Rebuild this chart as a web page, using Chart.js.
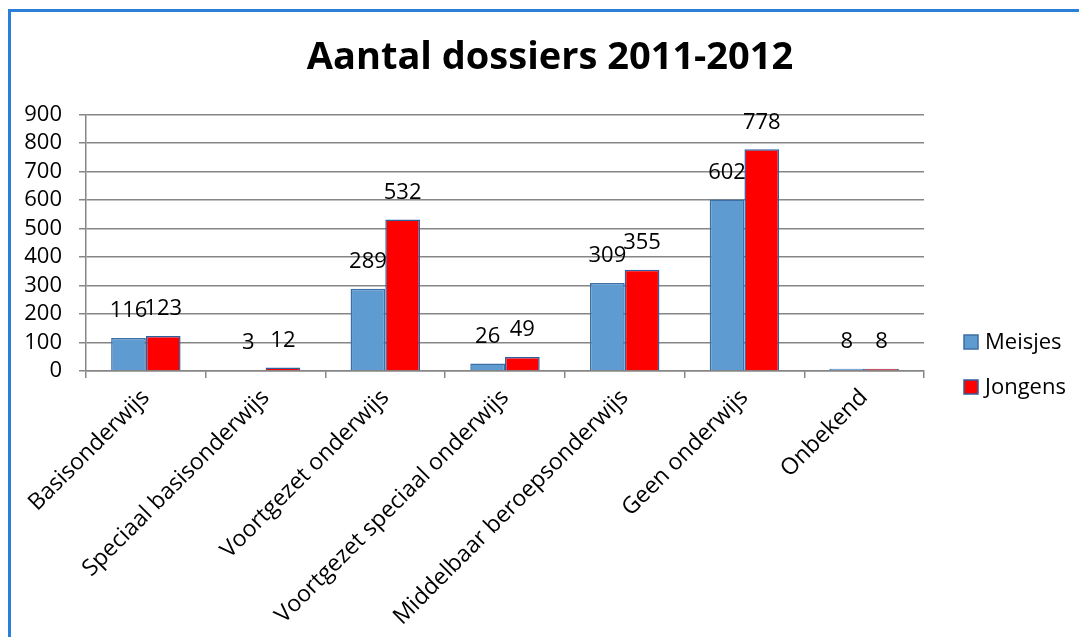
<!DOCTYPE html>
<html>
<head>
<meta charset="utf-8">
<script src="https://cdn.jsdelivr.net/npm/chart.js@4/dist/chart.umd.min.js"></script>
<style>
  html, body { margin: 0; padding: 0; background: #ffffff; overflow: hidden; }
  #frame {
    position: absolute; left: 8px; top: 9px;
    width: 1071px; height: 628px;
    border-left: 3px solid #2b7fd8; border-top: 3px solid #2b7fd8;
    background: #ffffff;
  }
  #c { display: block; }
</style>
</head>
<body>
<div id="frame"><canvas id="c" width="1068" height="625" style="width:1068px;height:625px"></canvas></div>
<script>
const titleText = 'Aantal dossiers 2011-2012';
const categories = [
  'Basisonderwijs',
  'Speciaal basisonderwijs',
  'Voortgezet onderwijs',
  'Voortgezet speciaal onderwijs',
  'Middelbaar beroepsonderwijs',
  'Geen onderwijs',
  'Onbekend'
];
const seriesNames = ['Meisjes', 'Jongens'];
const meisjes = [116, 3, 289, 26, 309, 602, 8];
const jongens = [123, 12, 532, 49, 355, 778, 8];
const yMin = 0, yMax = 900, yStep = 100;

const FONT = "'Open Sans', 'Noto Sans', sans-serif";
const GRID = '#868686';
const FS = 22;

const valueLabels = {
  id: 'valueLabels',
  afterDatasetsDraw(chart) {
    const ctx = chart.ctx;
    ctx.save();
    ctx.font = FS + 'px ' + FONT;
    ctx.fillStyle = '#000000';
    ctx.textAlign = 'center';
    ctx.textBaseline = 'middle';
    chart.data.datasets.forEach((ds, di) => {
      const meta = chart.getDatasetMeta(di);
      meta.data.forEach((el, i) => {
        ctx.fillText(String(ds.data[i]), el.x, el.y - 27);
      });
    });
    ctx.restore();
  }
};

const sideLegend = {
  id: 'sideLegend',
  afterDraw(chart) {
    const ctx = chart.ctx;
    const area = chart.chartArea;
    const x = area.right + 40;
    const y0 = 330, gap = 45;
    ctx.save();
    ctx.font = FS + 'px ' + FONT;
    ctx.textAlign = 'left';
    ctx.textBaseline = 'middle';
    chart.data.datasets.forEach((ds, i) => {
      const y = y0 + i * gap;
      ctx.fillStyle = ds.backgroundColor;
      ctx.fillRect(x, y - 7, 14, 14);
      ctx.lineWidth = 1.5;
      ctx.strokeStyle = ds.borderColor;
      ctx.strokeRect(x, y - 7, 14, 14);
      ctx.fillStyle = '#000000';
      ctx.fillText(ds.label, x + 21, y + 1);
    });
    ctx.restore();
  }
};

new Chart(document.getElementById('c'), {
  type: 'bar',
  data: {
    labels: categories,
    datasets: [
      { label: seriesNames[0], data: meisjes, backgroundColor: '#5e9bd1', borderColor: '#3c6fa4', borderWidth: 1.5 },
      { label: seriesNames[1], data: jongens, backgroundColor: '#ff0000', borderColor: '#2f5f9f', borderWidth: 1.5 }
    ]
  },
  options: {
    responsive: false,
    animation: false,
    devicePixelRatio: 1,
    layout: { padding: { left: 10, right: 0, top: 0, bottom: 0 } },
    datasets: { bar: { categoryPercentage: 0.58, barPercentage: 1.0 } },
    plugins: {
      legend: { display: false },
      tooltip: { enabled: false },
      title: {
        display: true,
        text: titleText,
        color: '#000000',
        font: { family: FONT, size: 38, weight: 'bold', lineHeight: 1.2 },
        padding: { top: 23, bottom: 34 }
      }
    },
    scales: {
      x: {
        afterFit(s) { s.height = 266; },
        grid: { display: true, drawOnChartArea: false, drawTicks: true, tickLength: 7, color: GRID, lineWidth: 1.5, offset: true },
        border: { display: true, color: GRID, width: 1.5 },
        ticks: {
          autoSkip: false, maxRotation: 45, minRotation: 45,
          color: '#000000', font: { family: FONT, size: 23 }, padding: 6
        }
      },
      y: {
        min: yMin, max: yMax,
        afterFit(s) { s.width = 65; },
        grid: { color: GRID, lineWidth: 1.5, tickLength: 7, drawTicks: true },
        border: { display: true, color: GRID, width: 1.5 },
        ticks: {
          stepSize: yStep, autoSkip: false, maxTicksLimit: 20,
          color: '#000000', font: { family: FONT, size: FS, lineHeight: 1 }, padding: 17
        }
      },
      legendSpace: {
        type: 'linear',
        position: 'right',
        display: true,
        afterFit(s) { s.width = 155; },
        grid: { display: false, drawTicks: false },
        border: { display: false },
        ticks: { display: false }
      }
    }
  },
  plugins: [valueLabels, sideLegend]
});
</script>
</body>
</html>
